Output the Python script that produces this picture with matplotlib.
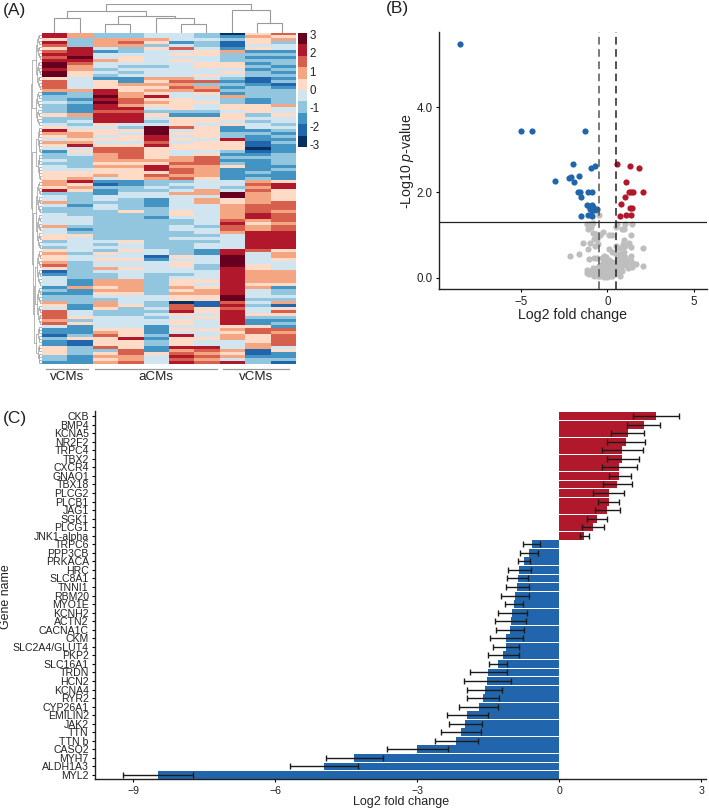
import numpy as np
import matplotlib
matplotlib.use("Agg")
import matplotlib.pyplot as plt
from matplotlib.colors import ListedColormap

plt.rcParams["font.family"] = ["Liberation Sans", "DejaVu Sans"]
plt.rcParams["mathtext.fontset"] = "custom"
plt.rcParams["mathtext.it"] = "Liberation Sans:italic"
plt.rcParams["mathtext.rm"] = "Liberation Sans"

W, H = 709, 811
TEXT = "#222222"

# heatmap: one string per row, one digit per sample, digit = colour band
HEAT_ROWS = [
    "8633443057", "8633443265", "5366644356", "8367523153", "7366343144",
    "5843574254", "7823445622", "8844455333", "7945444322", "8865454333",
    "9744445523", "9643345532", "8634444423", "9543444532", "9534445433",
    "5422664312", "7452577213", "7456663321", "7455576232", "6685667333",
    "2386545233", "3396844633", "3287554323", "4397655323", "3286554556",
    "3288454554", "3277333454", "5688522535", "3388455544", "3488355434",
    "4354454543", "5443975244", "8555945223", "6654955332", "5645845323",
    "4555854822", "6644745513", "5855855512", "4477555502", "2577544312",
    "3467545223", "3367567333", "4366667223", "3355577323", "4366866522",
    "4455876223", "5555576232", "5565766222", "5645675232", "6822334465",
    "6512344478", "5633434368", "8523346475",
    "3324466965", "4344444965", "4343246565", "6333246567", "4243244677",
    "3343344677", "3335354676", "4333354687", "4433244687", "4433334767",
    "4433334856", "6333343767", "4233344767", "4333334688", "5533333488",
    "5433344488", "3445333488", "4434334488", "3444334488", "5435432875",
    "6354432846", "5444154946", "5455244945", "6344454944", "7344453954",
    "5365443854", "1344444866", "2334334866", "4334344866", "4266355866",
    "4266354855", "2656365862", "3266356843", "2255366843", "3344455944",
    "3334455933", "6364301746", "5265371831", "4253475745", "7433385847",
    "7433454855", "7544345833", "6344454822", "7544454823", "4244244552",
    "2255255677", "2265244576", "1375384657", "3558255657", "2155354457",
    "2155354467", "5375288464", "5337267615", "5357576512", "3266487622",
    "3256476433", "2267487831",
]
BAND_COLORS = ["#053061", "#2166ac", "#4393c3", "#92c5de", "#d1e5f0",
               "#fddbc7", "#f4a582", "#d6604d", "#b2182b", "#67001f"]
SAMPLE_GROUPS = ["vCMs", "aCMs", "vCMs"]
COLORBAR_TICKS = [3, 2, 1, 0, -1, -2, -3]

# (left node, right node, height); nodes 0-9 are the samples
COLUMN_MERGES = [(0, 1, 42), (2, 3, 24), (5, 6, 24), (4, 12, 44), (11, 13, 49),
                 (10, 14, 65), (8, 9, 29), (7, 16, 67), (15, 17, 84)]
ROW_GROUP_SIZES = [19, 12, 18, 23, 25, 13]
ROW_GROUP_HEIGHTS = [5.5, 5.5, 5, 5.5, 6, 5]
ROW_TOP_MERGES = [(0, 1, 8.5), (4, 5, 7), (3, 7, 8), (2, 8, 9), (6, 9, 10)]

# volcano
BLUE_X = [-8.5, -4.98, -4.33, -1.29, -1.98, -0.73, -0.96, -3.0, -2.19, -2.08,
          -1.62, -1.94, -1.69, -1.6, -1.12, -0.87, -1.5, -1.19, -0.96, -0.87,
          -1.0, -0.9, -0.62, -0.7, -1.54, -1.12, -0.96, -0.9, -1.05, -0.8]
BLUE_Y = [5.49, 3.45, 3.45, 3.45, 2.67, 2.61, 2.57, 2.26, 2.34, 2.37,
          2.375, 2.24, 2.02, 2.02, 2.02, 2.02, 1.9, 1.71, 1.66, 1.71,
          1.62, 1.6, 1.62, 1.59, 1.45, 1.48, 1.47, 1.44, 1.68, 1.65]
RED_X = [0.54, 1.31, 1.81, 1.06, 1.23, 1.35, 1.48, 2.08, 1.02, 0.81, 1.31,
         1.44, 0.73, 1.08, 1.37]
RED_Y = [2.67, 2.61, 2.57, 2.25, 2.02, 2.02, 2.02, 2.02, 1.9, 1.73, 1.63,
         1.63, 1.45, 1.47, 1.48]
GRAY_X = [-0.46, -1.19, -1.0, -0.85, 0.55, 1.0, 1.44, 0.5, -1.1, -0.95, -0.8,
          -0.65, -0.75, -0.25, -0.4, 0.25, 0.1, 0.85, 0.95, 1.4, 0.5, -1.4,
          -1.0, -0.6, -0.55, -0.7, 0.95, 0.9, 0.85, 0.65, 1.05, 1.25, 1.35,
          2.05, -1.1, 0.1, 0.3, -0.2, -2.15, -1.65, -1.05, -0.75, -0.6, -0.3,
          -0.2, -0.1, 0.5, 0.7, 0.85, 0.95, 0.75, 0.9, 0.6, 1.0, 1.1, 1.35,
          1.4, 0.65, 0.8, 1.05, 1.25, 1.55, 1.65, 1.45, 2.05, 0.55, 0.8, 1.0,
          1.2, 0.45, 0.6, 0.85, 0.75, -1.2, -1.15, -1.05, -0.95, -0.9, -0.85,
          -0.8, -0.75, -0.7, -0.65, -0.6, -0.55, -0.5, -0.45, -0.45, -0.4,
          -0.4, -0.35, -0.3, -0.3, -0.25, -0.25, -0.2, -0.2, -0.2, -0.15,
          -0.15, -0.1, -0.1, -0.1, -0.05, -0.05, 0.0, 0.0, 0.0, 0.05, 0.05,
          0.05, 0.1, 0.1, 0.15, 0.15, 0.2, 0.2, 0.25, 0.25, 0.3, 0.3, 0.35,
          0.35, 0.4, 0.4, 0.45, 0.5, 0.55]
GRAY_Y = [1.47, 1.27, 1.27, 1.28, 1.27, 1.25, 1.27, 1.2, 1.15, 1.18, 1.05,
          1.02, 0.9, 1.07, 1.0, 1.0, 1.0, 1.15, 1.15, 1.0, 0.75, 0.82,
          0.82, 0.9, 0.8, 0.75, 0.88, 0.78, 0.7, 0.7, 0.75, 0.82, 0.72,
          0.7, 0.68, 0.68, 0.6, 0.48, 0.5, 0.55, 0.44, 0.47, 0.47, 0.47,
          0.5, 0.48, 0.55, 0.55, 0.55, 0.6, 0.5, 0.45, 0.45, 0.48, 0.42, 0.5,
          0.4, 0.35, 0.38, 0.35, 0.38, 0.32, 0.33, 0.26, 0.28, 0.28, 0.25, 0.3,
          0.22, 0.2, 0.15, 0.15, 0.05, 0.18, 0.12, 0.1, 0.17, 0.08, 0.24,
          0.14, 0.05, 0.18, 0.1, 0.22, 0.04, 0.15, 0.08, 0.28, 0.18,
          0.03, 0.12, 0.22, 0.32, 0.05, 0.15, 0.38, 0.25, 0.02, 0.12,
          0.3, 0.2, 0.05, 0.4, 0.28, 0.1, 0.02, 0.15, 0.35, 0.22, 0.07,
          0.3, 0.12, 0.42, 0.03, 0.2, 0.3, 0.1, 0.15, 0.38, 0.05, 0.22, 0.28,
          0.12, 0.35, 0.18, 0.08, 0.3, 0.4]

# bars, top to bottom
GENES = ["CKB", "BMP4", "KCNA5", "NR2F2", "TRPC4", "TBX2", "CXCR4", "GNAO1",
         "TBX18", "PLCG2", "PLCB1", "JAG1", "SGK1", "PLCG1", "JNK1-alpha",
         "TRPC6", "PPP3CB", "PRKACA", "HRC", "SLC8A1", "TNNI1", "RBM20",
         "MYO1E", "KCNH2", "ACTN2", "CACNA1C", "CKM", "SLC2A4/GLUT4", "PKP2",
         "SLC16A1", "TRDN", "HCN2", "KCNA4", "RYR2", "CYP26A1", "EMILIN2",
         "JAK2", "TTN", "TTN b", "CASQ2", "MYH7", "ALDH1A3", "MYL2"]
FOLD_CHANGE = [2.04, 1.78, 1.45, 1.41, 1.33, 1.33, 1.27, 1.27, 1.23, 1.05, 1.05,
               1.01, 0.80, 0.72, 0.52, -0.58, -0.63, -0.74, -0.85, -0.88, -0.89,
               -0.94, -0.96, -0.99, -1.03, -1.04, -1.12, -1.13, -1.18, -1.29,
               -1.50, -1.53, -1.58, -1.61, -1.70, -1.94, -1.99, -2.07, -2.18,
               -3.01, -4.33, -4.97, -8.48]
ERR_LOW = [1.56, 1.44, 1.10, 1.01, 0.91, 1.0, 0.91, 1.05, 0.93, 0.71, 0.82,
           0.75, 0.58, 0.49, 0.43, -0.76, -0.82, -0.88, -1.09, -1.10, -1.13,
           -1.23, -1.14, -1.30, -1.35, -1.33, -1.46, -1.40, -1.51, -1.48,
           -1.88, -2.02, -1.96, -1.94, -2.11, -2.37, -2.34, -2.50, -2.63,
           -3.65, -4.92, -5.68, -9.22]
ERR_HIGH = [2.54, 2.13, 1.80, 1.82, 1.76, 1.68, 1.65, 1.51, 1.53, 1.37, 1.27,
            1.28, 1.01, 0.95, 0.62, -0.41, -0.45, -0.61, -0.60, -0.67, -0.65,
            -0.63, -0.77, -0.68, -0.70, -0.74, -0.77, -0.85, -0.85, -1.11,
            -1.11, -1.03, -1.21, -1.27, -1.29, -1.51, -1.63, -1.65, -1.72,
            -2.35, -3.73, -4.25, -7.74]

RED = "#b2182b"
BLUE = "#2166ac"
GRAY = "#bebebe"
DENDRO = "#9a9a9a"

fig = plt.figure(figsize=(W / 100, H / 100), dpi=100)


def px_axes(left, top, right, bottom):
    return fig.add_axes([left / W, 1 - bottom / H, (right - left) / W, (bottom - top) / H])


def px_text(x, y, s, **kw):
    kw.setdefault("ha", "center")
    kw.setdefault("va", "center")
    kw.setdefault("color", TEXT)
    return fig.text(x / W, 1 - y / H, s, **kw)


def link_segments(merges, leaves):
    pos = list(leaves)
    heights = [0] * len(pos)
    segs = []
    for a, b, h in merges:
        segs.append(([pos[a], pos[a], pos[b], pos[b]], [heights[a], h, h, heights[b]]))
        pos.append((pos[a] + pos[b]) / 2)
        heights.append(h)
    return segs


def split_rows(start, stop, height, merges, n_rows):
    if stop - start == 1:
        return start
    mid = (start + stop) // 2
    a = split_rows(start, mid, height * 0.72, merges, n_rows)
    b = split_rows(mid, stop, height * 0.72, merges, n_rows)
    merges.append((a, b, height))
    return n_rows + len(merges) - 1


# panel A
heat = np.array([[int(c) for c in row] for row in HEAT_ROWS])
n_rows, n_cols = heat.shape
band_cmap = ListedColormap(BAND_COLORS)

ax = px_axes(41.5, 33, 295, 364.5)
ax.imshow(heat, cmap=band_cmap, vmin=-0.5, vmax=9.5, aspect="auto", interpolation="nearest")
ax.axis("off")

ax = px_axes(41.5, 4, 295, 32.5)
for xs, ys in link_segments(COLUMN_MERGES, np.arange(n_cols)):
    ax.plot(xs, ys, color=DENDRO, lw=0.8, solid_joinstyle="miter")
ax.set_xlim(-0.5, n_cols - 0.5)
ax.set_ylim(0, 85)
ax.axis("off")

row_merges = []
group_nodes = []
start = 0
for size, height in zip(ROW_GROUP_SIZES, ROW_GROUP_HEIGHTS):
    group_nodes.append(split_rows(start, start + size, height, row_merges, n_rows))
    start += size
for a, b, h in ROW_TOP_MERGES:
    row_merges.append((group_nodes[a], group_nodes[b], h))
    group_nodes.append(n_rows + len(row_merges) - 1)

ax = px_axes(30.5, 33, 41.5, 364.5)
for ys, xs in link_segments(row_merges, np.arange(n_rows)):
    ax.plot(xs, ys, color=DENDRO, lw=0.5)
ax.set_xlim(10.2, 0)
ax.set_ylim(n_rows - 0.5, -0.5)
ax.axis("off")

ax = px_axes(298, 33, 306.5, 147)
ax.imshow(np.arange(9, -1, -1).reshape(-1, 1), cmap=band_cmap, vmin=-0.5, vmax=9.5,
          aspect="auto", interpolation="nearest", extent=(0, 1, -3.05, 3.17))
ax.axis("off")
for tick in COLORBAR_TICKS:
    px_text(309.5, 91 - tick * 18.3, str(tick), ha="left", fontsize=8.3)

for (x0, x1), name in zip([(46, 88), (95, 217), (223, 289)], SAMPLE_GROUPS):
    fig.add_artist(plt.Line2D([x0 / W, x1 / W], [1 - 368.5 / H] * 2, color="#999999", lw=0.9))
    px_text((x0 + x1) / 2, 377.5, name, fontsize=9.6)

px_text(14, 10, "(A)", fontsize=12.5)
px_text(397.5, 8.5, "(B)", fontsize=12.5)
px_text(15, 419, "(C)", fontsize=12.5)


def clean_axes(ax):
    ax.spines[["top", "right"]].set_visible(False)
    ax.spines[["left", "bottom"]].set_linewidth(1.0)
    ax.spines[["left", "bottom"]].set_color("#222222")


# panel B
ax = px_axes(439, 32, 706.7, 289.3)
ax.scatter(GRAY_X, GRAY_Y, s=20, color=GRAY, linewidths=0, zorder=1)
ax.scatter(BLUE_X, BLUE_Y, s=20, color=BLUE, linewidths=0, zorder=2)
ax.scatter(RED_X, RED_Y, s=20, color=RED, linewidths=0, zorder=2)
ax.axvline(-0.5, color="#555555", lw=1.1, ls=(0, (5, 3)), zorder=3)
ax.axvline(0.5, color="#222222", lw=1.1, ls=(0, (5, 3)), zorder=3)
ax.axhline(1.3, color="#222222", lw=0.9, zorder=3)
ax.set_xlim(-9.73, 5.75)
ax.set_ylim(-0.27, 5.76)
ax.set_xticks([-5, 0, 5])
ax.set_yticks([0, 2, 4])
ax.set_yticklabels(["0.0", "2.0", "4.0"])
ax.tick_params(labelsize=8.3, length=2.5, width=0.8, pad=2, labelcolor=TEXT)
clean_axes(ax)
px_text(572.5, 315, "Log2 fold change", fontsize=10.2)
px_text(407, 161, r"-Log10 $\mathit{p}$-value", fontsize=10.2, rotation=90)

# panel C
ax = px_axes(95, 411, 706, 779.3)
ypos = np.arange(len(GENES))[::-1]
fold = np.array(FOLD_CHANGE)
bar_colors = [RED if v > 0 else BLUE for v in fold]
ax.barh(ypos, fold, height=0.92, color=bar_colors, linewidth=0)
ax.errorbar(fold, ypos, xerr=[fold - np.array(ERR_LOW), np.array(ERR_HIGH) - fold],
            fmt="none", ecolor="#1a1a1a", elinewidth=1.0, capsize=2.5, capthick=1.0)
ax.set_xlim(-9.81, 3.1)
ax.set_ylim(-0.5, 42.6)
ax.set_xticks([-9, -6, -3, 0, 3])
ax.set_yticks(ypos)
ax.set_yticklabels(GENES)
ax.tick_params(axis="y", labelsize=7.6, length=2.5, width=0.8, pad=2, labelcolor=TEXT)
ax.tick_params(axis="x", labelsize=7.6, length=2.5, width=0.8, pad=2, labelcolor=TEXT)
clean_axes(ax)
px_text(401.5, 802.5, "Log2 fold change", fontsize=9)
px_text(6.5, 597, "Gene name", fontsize=8.9, rotation=90)

fig.savefig("out.png", dpi=100)
